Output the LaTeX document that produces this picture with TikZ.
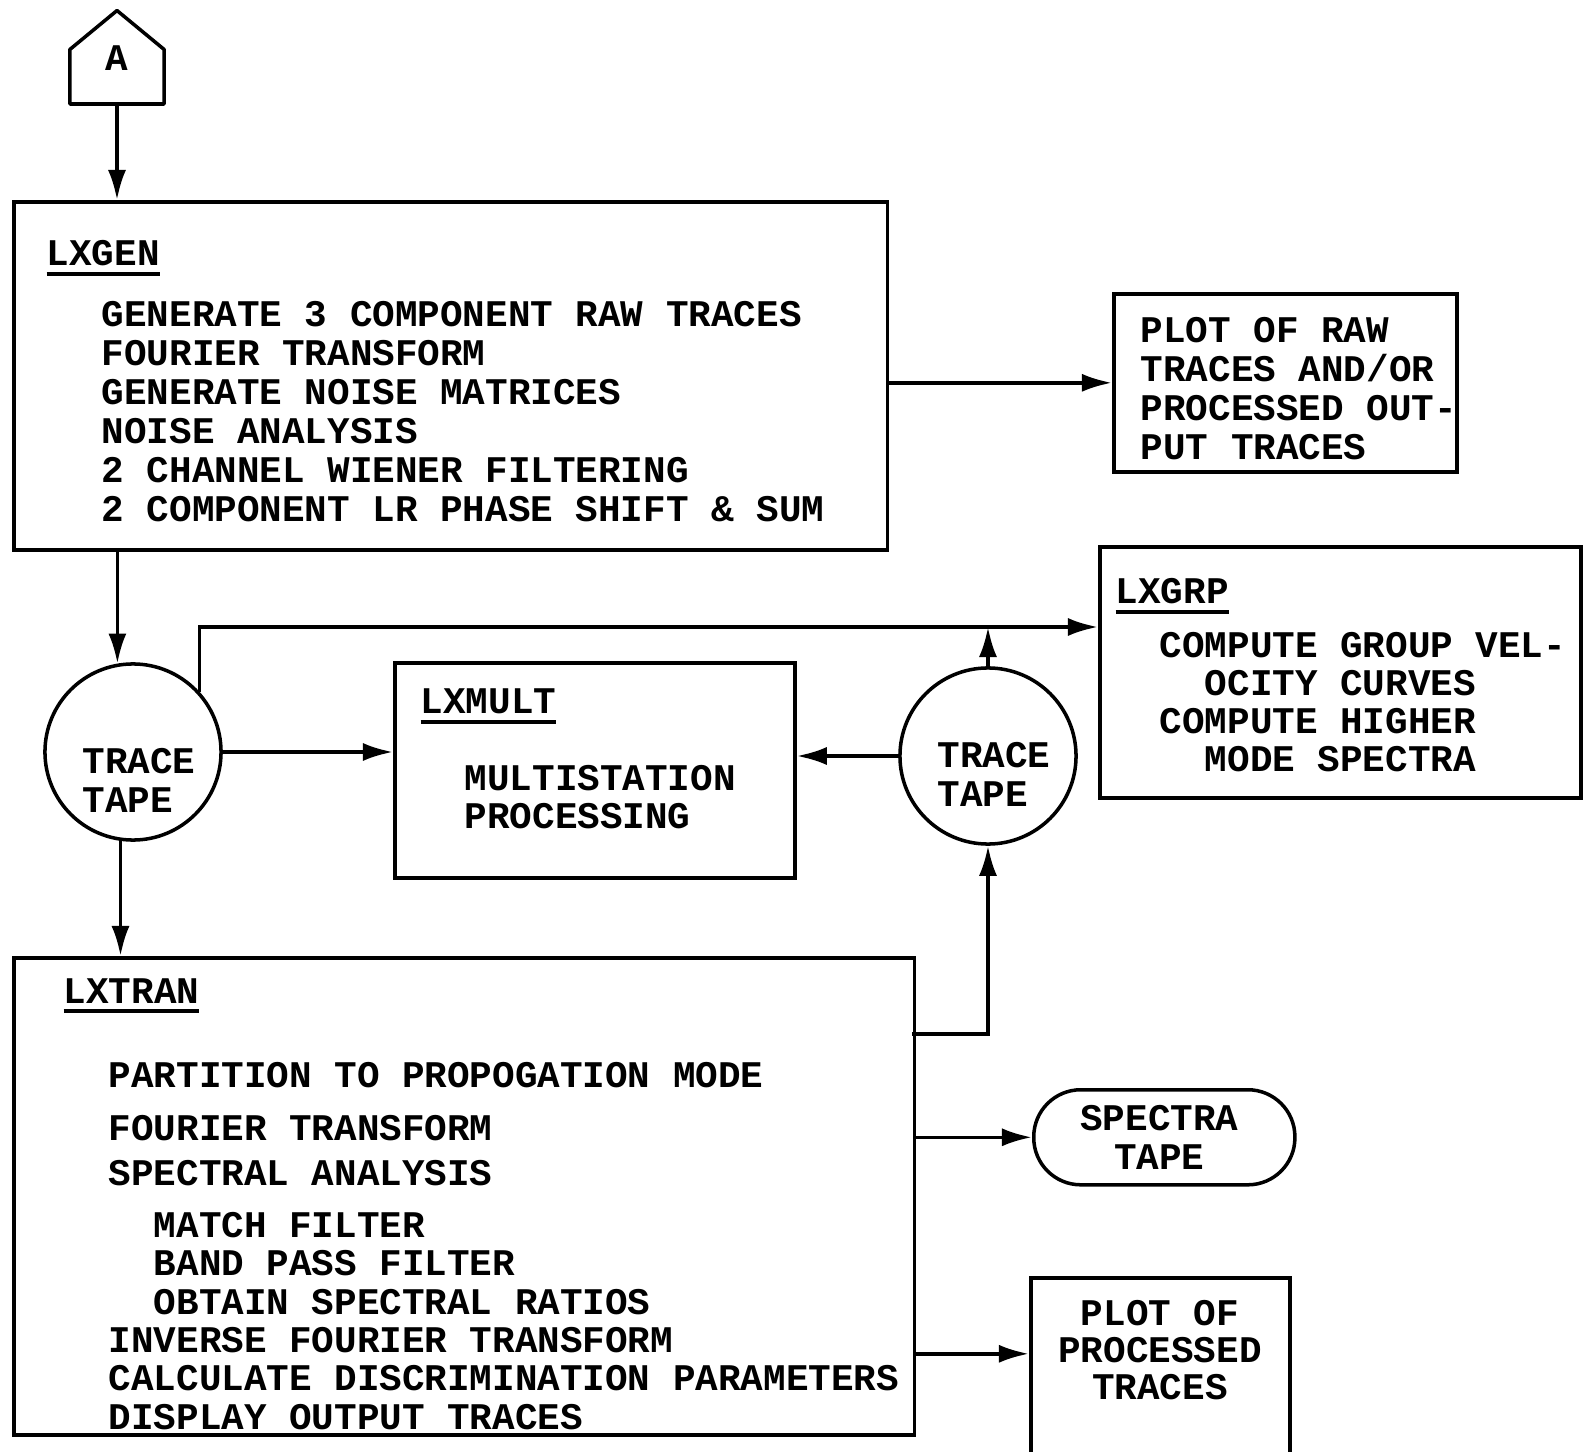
\documentclass[tikz,border=0pt]{standalone}
\usepackage{fontspec}
\setmonofont{Liberation Mono}
\usetikzlibrary{arrows.meta,positioning}
\newcommand{\typefont}[1][11.1pt]{\ttfamily\bfseries\fontsize{10.7}{#1}\selectfont}
\newcommand{\ulabel}[1]{\setbox0\hbox{#1}\rlap{\rule[-1.0mm]{\wd0}{1.1pt}}\box0}
\tikzset{
  flowbox/.style={rectangle,draw,line width=1pt,inner sep=0pt,anchor=north west},
  tape/.style={circle,draw,line width=1pt,minimum size=1.76cm,inner sep=0pt},
  steps/.style={font=\typefont,align=left,inner sep=0pt,anchor=north west},
  boxtitle/.style={font=\typefont,inner sep=0pt,anchor=base west},
  arrow/.style={-{Latex[length=3mm,width=1.8mm]},line width=1pt},
}
\begin{document}
\begin{tikzpicture}[x=0.01cm,y=-0.01cm]
  \useasboundingbox (0,0) rectangle (1590,1452);
  % connector A
  \node[inner sep=0pt,minimum width=0.93cm,minimum height=0.53cm,anchor=south]
    (a) at (117,104) {};
  \draw[line width=1pt,line join=round] (a.south west) -- (a.north west)
    -- ([yshift=0.39cm]a.north) -- (a.north east) -- (a.south east) -- cycle;
  \node[font=\typefont,inner sep=0pt] (a-text) at (117,58) {A};
  % LXGEN
  \node[flowbox,minimum width=8.73cm,minimum height=3.48cm] (lxgen) at (12,200) {};
  \node[boxtitle] (gen-title) at (46,266) {\ulabel{LXGEN}};
  \node[steps,font={\typefont[11.07pt]}] (gen-steps) at (101,301)
    {GENERATE 3 COMPONENT RAW TRACES\\
     FOURIER TRANSFORM\\
     GENERATE NOISE MATRICES\\
     NOISE ANALYSIS\\
     2 CHANNEL WIENER FILTERING\\
     2 COMPONENT LR PHASE SHIFT \& SUM};
  \node[flowbox,minimum width=3.43cm,minimum height=1.78cm] (plotraw) at (1112,292) {};
  \node[steps,font={\typefont[11.07pt]}] (plotraw-text) at (1140,317)
    {PLOT OF RAW\\
     TRACES AND/OR\\
     PROCESSED OUT-\\
     PUT TRACES};
  % tapes
  \node[tape] (tape1) at (133,752) {};
  \node[steps,anchor=center] (tape1-text) at (139,780) {TRACE\\TAPE};
  \node[tape] (tape2) at (988,756) {};
  \node[steps,anchor=center] (tape2-text) at (994,774) {TRACE\\TAPE};
  \coordinate (bus) at (0,627);
  % LXMULT
  \node[flowbox,minimum width=4.00cm,minimum height=2.15cm] (lxmult) at (393,661) {};
  \node[boxtitle] (mult-title) at (420,714) {\ulabel{LXMULT}};
  \node[steps,font={\typefont[10.79pt]}] (mult-steps) at (464,765)
    {MULTISTATION\\
     PROCESSING};
  % LXGRP
  \node[flowbox,minimum width=4.81cm,minimum height=2.51cm] (lxgrp) at (1098,545) {};
  \node[boxtitle] (grp-title) at (1115,604) {\ulabel{LXGRP}};
  \node[steps,font={\typefont[10.79pt]}] (grp-steps) at (1159,632)
    {COMPUTE GROUP VEL-\\
     \phantom{XX}OCITY CURVES\\
     COMPUTE HIGHER\\
     \phantom{XX}MODE SPECTRA};
  % LXTRAN
  \node[flowbox,minimum width=9.00cm,minimum height=4.77cm] (lxtran) at (12,956) {};
  \node[boxtitle] (tran-title) at (63,1003) {\ulabel{LXTRAN}};
  \node[steps,font={\typefont[10.93pt]}] (tran-steps) at (108,1062)
    {PARTITION TO PROPOGATION MODE\\[0.14cm]
     FOURIER TRANSFORM\\[0.07cm]
     SPECTRAL ANALYSIS\\[0.13cm]
     \phantom{XX}MATCH FILTER\\
     \phantom{XX}BAND PASS FILTER\\
     \phantom{XX}OBTAIN SPECTRAL RATIOS\\
     INVERSE FOURIER TRANSFORM\\
     CALCULATE DISCRIMINATION PARAMETERS\\
     DISPLAY OUTPUT TRACES};
  \node[flowbox,rounded corners=4.7mm,minimum width=2.61cm,minimum height=0.95cm]
    (spectra) at (1032,1088) {};
  \node[steps,anchor=center,align=center,font={\typefont[11.07pt]}]
    (spectra-text) at ([xshift=-0.05cm]spectra.center) {SPECTRA\\TAPE};
  \node[flowbox,minimum width=2.59cm,minimum height=2.0cm] (plotproc) at (1029,1276) {};
  \node[steps,anchor=north,align=center,font={\typefont[10.5pt]}]
    (plotproc-text) at (1160,1300) {PLOT OF\\PROCESSED\\TRACES};
  \coordinate (tran-out) at (912,1034);
  % connectors
  \draw[arrow] (a.south) -- (a.south |- lxgen.north);
  \draw[arrow] (lxgen.east |- plotraw.west) -- (plotraw.west);
  \draw[arrow] (tape1.100 |- lxgen.south) -- (tape1.100);
  \draw[arrow] (tape1.262) -- (tape1.262 |- lxtran.north);
  \draw[arrow] (tape1.east) -- (tape1.east -| lxmult.west);
  \draw[arrow] (tape2.west) -- (tape2.west -| lxmult.east);
  \draw[arrow] (tape1.42) |- (bus -| lxgrp.west);
  \draw[arrow] (tape2.north) -- (tape2.north |- bus);
  \draw[arrow] (tran-out) -| (tape2.south);
  \draw[arrow] (spectra.west -| lxtran.east) -- (spectra.west);
  \draw[arrow] ([yshift=0.24cm]plotproc.west -| lxtran.east) -- ([yshift=0.24cm]plotproc.west);
\end{tikzpicture}
\end{document}
